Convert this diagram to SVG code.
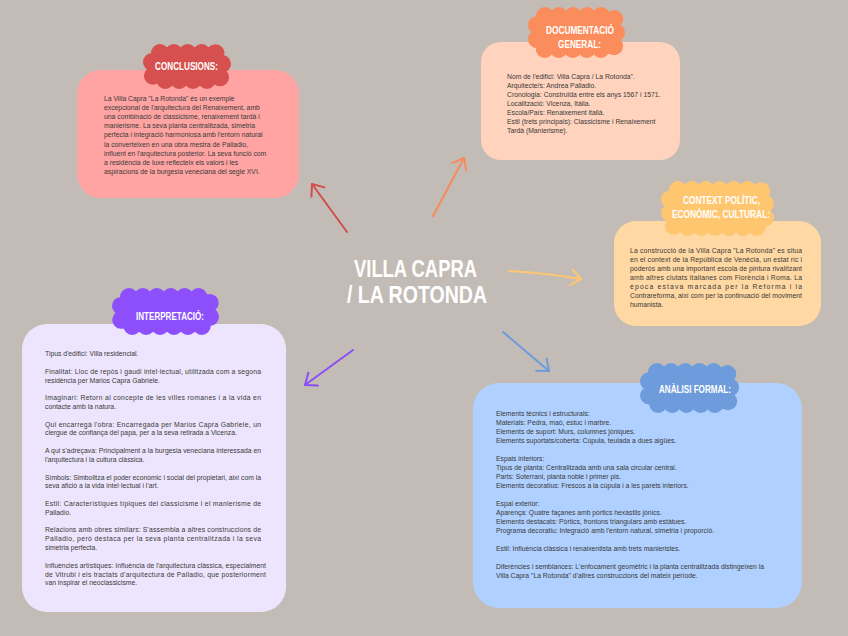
<svg xmlns="http://www.w3.org/2000/svg" width="848" height="636" viewBox="0 0 848 636">
<style>
.t{font-family:"Liberation Sans",Arial,sans-serif;font-size:6.8px;fill:#3a3a3a}
.h{font-family:"Liberation Sans",Arial,sans-serif;font-weight:bold;font-size:11px;fill:#ffffff}
.title{font-family:"Liberation Sans",Arial,sans-serif;font-weight:bold;font-size:23px;fill:#ffffff}
.cloud{stroke-width:18;stroke-linecap:round}
.arr{fill:none;stroke-width:2;stroke-linecap:round}
</style>
<defs>
<marker id="mR" viewBox="-14 -10 16 20" refX="0" refY="0" markerWidth="16" markerHeight="20" markerUnits="userSpaceOnUse" orient="auto"><path d="M-10,-8 L0,0 L-10,8" fill="none" stroke="#d24d4b" stroke-width="2" stroke-linecap="round" stroke-linejoin="round"/></marker>
<marker id="mO" viewBox="-14 -10 16 20" refX="0" refY="0" markerWidth="16" markerHeight="20" markerUnits="userSpaceOnUse" orient="auto"><path d="M-10,-8 L0,0 L-10,8" fill="none" stroke="#f88a5a" stroke-width="2" stroke-linecap="round" stroke-linejoin="round"/></marker>
<marker id="mY" viewBox="-14 -10 16 20" refX="0" refY="0" markerWidth="16" markerHeight="20" markerUnits="userSpaceOnUse" orient="auto"><path d="M-10,-8 L0,0 L-10,8" fill="none" stroke="#ffc670" stroke-width="2" stroke-linecap="round" stroke-linejoin="round"/></marker>
<marker id="mB" viewBox="-14 -10 16 20" refX="0" refY="0" markerWidth="16" markerHeight="20" markerUnits="userSpaceOnUse" orient="auto"><path d="M-10,-8 L0,0 L-10,8" fill="none" stroke="#6d9bdb" stroke-width="2" stroke-linecap="round" stroke-linejoin="round"/></marker>
<marker id="mP" viewBox="-14 -10 16 20" refX="0" refY="0" markerWidth="16" markerHeight="20" markerUnits="userSpaceOnUse" orient="auto"><path d="M-10,-8 L0,0 L-10,8" fill="none" stroke="#8a4ef5" stroke-width="2" stroke-linecap="round" stroke-linejoin="round"/></marker>
</defs>
<rect x="0" y="0" width="848" height="636" fill="#c3bcb6"/>

<g id="connectors">
<path class="arr" d="M347,232 L312,184" stroke="#d24d4b" marker-end="url(#mR)"/>
<path class="arr" d="M433,216 L464,158" stroke="#f88a5a" marker-end="url(#mO)"/>
<path class="arr" d="M509,271 Q546,273 581,279" stroke="#ffc670" marker-end="url(#mY)"/>
<path class="arr" d="M503,332 L549,371" stroke="#6d9bdb" marker-end="url(#mB)"/>
<path class="arr" d="M353,350 L305,385" stroke="#8a4ef5" marker-end="url(#mP)"/>
</g>

<g id="center">
<text class="title" x="354" y="277" textLength="123" lengthAdjust="spacingAndGlyphs">VILLA CAPRA</text>
<text class="title" x="347" y="303" textLength="140" lengthAdjust="spacingAndGlyphs">/ LA ROTONDA</text>
</g>

<g id="conclusions">
<rect x="77" y="70" width="222" height="128" rx="24" fill="#ffa4a2"/>
<rect class="cloud" x="152" y="53" width="70" height="27" rx="8" fill="#d5504e" stroke="#d5504e" stroke-dasharray="0 13.87"/>
<text class="h" x="155" y="69.8" textLength="63" lengthAdjust="spacingAndGlyphs">CONCLUSIONS:</text>
<text class="t" x="104" y="101">La Villa Capra "La Rotonda" és un exemple</text>
<text class="t" x="104" y="110.1">excepcional de l'arquitectura del Renaixement, amb</text>
<text class="t" x="104" y="119.2">una combinació de classicisme, renaixement tardà i</text>
<text class="t" x="104" y="128.3">manierisme. La seva planta centralitzada, simetria</text>
<text class="t" x="104" y="137.4">perfecta i integració harmoniosa amb l'entorn natural</text>
<text class="t" x="104" y="146.5">la converteixen en una obra mestra de Palladio,</text>
<text class="t" x="104" y="155.6">influent en l'arquitectura posterior. La seva funció com</text>
<text class="t" x="104" y="164.7">a residència de luxe reflecteix els valors i les</text>
<text class="t" x="104" y="173.8">aspiracions de la burgesia veneciana del segle XVI.</text>
</g>

<g id="documentacio">
<rect x="481" y="42" width="199" height="118" rx="20" fill="#ffd3bd"/>
<rect class="cloud" x="537" y="16" width="79" height="33" rx="8" fill="#fb8c5c" stroke="#fb8c5c" stroke-dasharray="0 14.02"/>
<text class="h" x="546" y="34" textLength="68" lengthAdjust="spacingAndGlyphs">DOCUMENTACIÓ</text>
<text class="h" x="558" y="48.3" textLength="43" lengthAdjust="spacingAndGlyphs">GENERAL:</text>
<text class="t" x="507" y="78.7">Nom de l'edifici: Villa Capra / La Rotonda".</text>
<text class="t" x="507" y="87.7">Arquitecte/s: Andrea Palladio.</text>
<text class="t" x="507" y="96.7">Cronologia: Construïda entre els anys 1567 i 1571.</text>
<text class="t" x="507" y="105.7">Localització: Vicenza, Itàlia.</text>
<text class="t" x="507" y="114.7">Escola/País: Renaixement italià.</text>
<text class="t" x="507" y="123.7">Estil (trets principals): Classicisme i Renaixement</text>
<text class="t" x="507" y="132.7">Tardà (Manierisme).</text>
</g>

<g id="context">
<rect x="614" y="221" width="207" height="105" rx="22" fill="#ffd8a3"/>
<rect class="cloud" x="670" y="190" width="95" height="37" rx="8" fill="#ffc670" stroke="#ffc670" stroke-dasharray="0 13.9"/>
<text class="h" x="683" y="203.7" textLength="77" lengthAdjust="spacingAndGlyphs">CONTEXT POLÍTIC,</text>
<text class="h" x="672" y="218" textLength="98" lengthAdjust="spacingAndGlyphs">ECONÒMIC, CULTURAL:</text>
<text class="t" x="630" y="253.3" textLength="172" lengthAdjust="spacing">La construcció de la Villa Capra "La Rotonda" es situa</text>
<text class="t" x="630" y="262.2" textLength="172" lengthAdjust="spacing">en el context de la República de Venècia, un estat ric i</text>
<text class="t" x="630" y="271.1" textLength="172" lengthAdjust="spacing">poderós amb una important escola de pintura rivalitzant</text>
<text class="t" x="630" y="280" textLength="172" lengthAdjust="spacing">amb altres ciutats italianes com Florència i Roma. La</text>
<text class="t" x="630" y="288.9" textLength="172" lengthAdjust="spacing">època estava marcada per la Reforma i la</text>
<text class="t" x="630" y="297.8" textLength="172" lengthAdjust="spacing">Contrareforma, així com per la continuació del moviment</text>
<text class="t" x="630" y="306.7">humanista.</text>
</g>

<g id="interpretacio">
<rect x="22" y="324" width="264" height="288" rx="25" fill="#ede5fd"/>
<rect class="cloud" x="121" y="297" width="89" height="29" rx="8" fill="#8c4ffb" stroke="#8c4ffb" stroke-dasharray="0 13.9"/>
<text class="h" x="136" y="320" textLength="68" lengthAdjust="spacingAndGlyphs">INTERPRETACIÓ:</text>
<text class="t" x="45" y="356">Tipus d'edifici: Villa residencial.</text>
<text class="t" x="45" y="373.6" textLength="216" lengthAdjust="spacing">Finalitat: Lloc de repòs i gaudi intel·lectual, utilitzada com a segona</text>
<text class="t" x="45" y="382.5">residència per Marios Capra Gabriele.</text>
<text class="t" x="45" y="400.1" textLength="216" lengthAdjust="spacing">Imaginari: Retorn al concepte de les villes romanes i a la vida en</text>
<text class="t" x="45" y="408.9">contacte amb la natura.</text>
<text class="t" x="45" y="426.6" textLength="216" lengthAdjust="spacing">Qui encarregà l'obra: Encarregada per Marios Capra Gabriele, un</text>
<text class="t" x="45" y="435.4">clergue de confiança del papa, per a la seva retirada a Vicenza.</text>
<text class="t" x="45" y="453" textLength="216" lengthAdjust="spacing">A qui s'adreçava: Principalment a la burgesia veneciana interessada en</text>
<text class="t" x="45" y="461.8">l'arquitectura i la cultura clàssica.</text>
<text class="t" x="45" y="479.5" textLength="216" lengthAdjust="spacing">Símbols: Simbolitza el poder econòmic i social del propietari, així com la</text>
<text class="t" x="45" y="488.3">seva afició a la vida intel·lectual i l'art.</text>
<text class="t" x="45" y="506" textLength="216" lengthAdjust="spacing">Estil: Característiques típiques del classicisme i el manierisme de</text>
<text class="t" x="45" y="514.8">Palladio.</text>
<text class="t" x="45" y="532.4" textLength="216" lengthAdjust="spacing">Relacions amb obres similars: S'assembla a altres construccions de</text>
<text class="t" x="45" y="541.2" textLength="216" lengthAdjust="spacing">Palladio, però destaca per la seva planta centralitzada i la seva</text>
<text class="t" x="45" y="550">simetria perfecta.</text>
<text class="t" x="45" y="567.7" textLength="221" lengthAdjust="spacing">Influències artístiques: Influència de l'arquitectura clàssica, especialment</text>
<text class="t" x="45" y="576.5" textLength="221" lengthAdjust="spacing">de Vitrubi i els tractats d'arquitectura de Palladio, que posteriorment</text>
<text class="t" x="45" y="585.3">van inspirar el neoclassicisme.</text>
</g>

<g id="analisi-formal">
<rect x="473" y="383" width="329" height="225" rx="26" fill="#b0d0ff"/>
<rect class="cloud" x="649" y="372" width="81" height="32" rx="8" fill="#6d9bdb" stroke="#6d9bdb" stroke-dasharray="0 14.15"/>
<text class="h" x="659" y="393" textLength="72" lengthAdjust="spacingAndGlyphs">ANÀLISI FORMAL:</text>
<text class="t" x="496" y="416">Elements tècnics i estructurals:</text>
<text class="t" x="496" y="425">Materials: Pedra, maó, estuc i marbre.</text>
<text class="t" x="496" y="434">Elements de suport: Murs, columnes jòniques.</text>
<text class="t" x="496" y="443">Elements suportats/coberta: Cúpula, teulada a dues aigües.</text>
<text class="t" x="496" y="461">Espais interiors:</text>
<text class="t" x="496" y="470">Tipus de planta: Centralitzada amb una sala circular central.</text>
<text class="t" x="496" y="479">Parts: Soterrani, planta noble i primer pis.</text>
<text class="t" x="496" y="488">Elements decoratius: Frescos a la cúpula i a les parets interiors.</text>
<text class="t" x="496" y="506">Espai exterior:</text>
<text class="t" x="496" y="515">Aparença: Quatre façanes amb pòrtics hexàstils jònics.</text>
<text class="t" x="496" y="524">Elements destacats: Pòrtics, frontons triangulars amb estàtues.</text>
<text class="t" x="496" y="533">Programa decoratiu: Integració amb l'entorn natural, simetria i proporció.</text>
<text class="t" x="496" y="551">Estil: Influència clàssica i renaixentista amb trets manieristes.</text>
<text class="t" x="496" y="569">Diferències i semblances: L'enfocament geomètric i la planta centralitzada distingeixen la</text>
<text class="t" x="496" y="578">Villa Capra "La Rotonda" d'altres construccions del mateix període.</text>
</g>
</svg>
